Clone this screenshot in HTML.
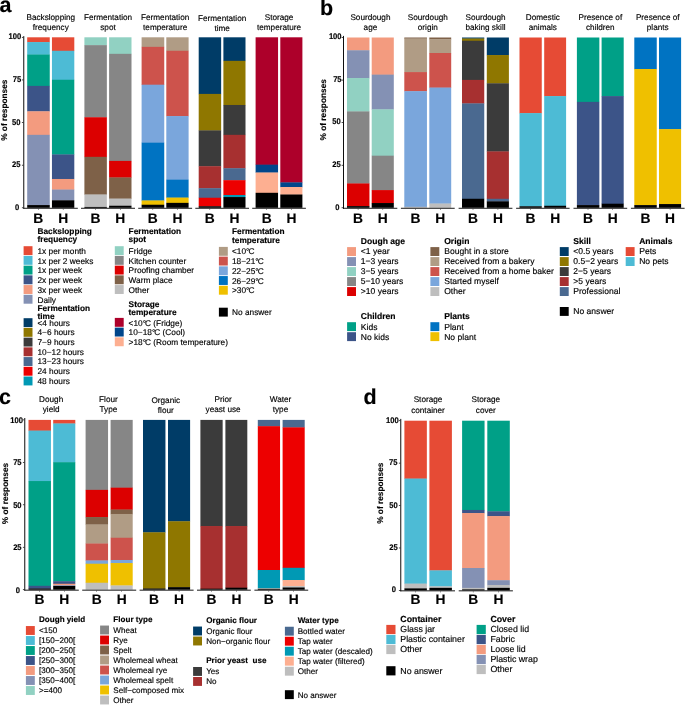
<!DOCTYPE html>
<html><head><meta charset="utf-8"><title>Figure</title>
<style>
html,body{margin:0;padding:0;background:#fff;}
svg{display:block;will-change:transform;}
text{font-family:"Liberation Sans",sans-serif;fill:#000;stroke:#000;stroke-width:0.15px;text-rendering:geometricPrecision;}
</style></head>
<body>
<svg width="685" height="705" viewBox="0 0 685 705">
<rect x="0" y="0" width="685" height="705" fill="#ffffff"/>
<rect x="27.20" y="37.30" width="22.55" height="5.07" fill="#E64B35"/>
<rect x="27.20" y="42.07" width="22.55" height="12.75" fill="#4DBBD5"/>
<rect x="27.20" y="54.52" width="22.55" height="31.67" fill="#00A087"/>
<rect x="27.20" y="85.89" width="22.55" height="25.70" fill="#3C5488"/>
<rect x="27.20" y="111.30" width="22.55" height="23.83" fill="#F39B7F"/>
<rect x="27.20" y="134.83" width="22.55" height="70.55" fill="#8491B4"/>
<rect x="27.20" y="205.07" width="22.55" height="2.73" fill="#000000"/>
<rect x="51.95" y="37.30" width="22.35" height="13.77" fill="#E64B35"/>
<rect x="51.95" y="50.77" width="22.35" height="29.29" fill="#4DBBD5"/>
<rect x="51.95" y="79.75" width="22.35" height="74.98" fill="#00A087"/>
<rect x="51.95" y="154.43" width="22.35" height="24.85" fill="#3C5488"/>
<rect x="51.95" y="178.99" width="22.35" height="10.87" fill="#F39B7F"/>
<rect x="51.95" y="189.56" width="22.35" height="11.04" fill="#8491B4"/>
<rect x="51.95" y="200.30" width="22.35" height="7.50" fill="#000000"/>
<rect x="84.40" y="37.30" width="22.45" height="8.14" fill="#91D1C2"/>
<rect x="84.40" y="45.14" width="22.45" height="72.42" fill="#868686"/>
<rect x="84.40" y="117.26" width="22.45" height="39.86" fill="#DC0000"/>
<rect x="84.40" y="156.82" width="22.45" height="37.98" fill="#7E6148"/>
<rect x="84.40" y="194.50" width="22.45" height="12.75" fill="#BEBEBE"/>
<rect x="84.40" y="206.95" width="22.45" height="0.85" fill="#000000"/>
<rect x="109.10" y="37.30" width="22.40" height="16.84" fill="#91D1C2"/>
<rect x="109.10" y="53.84" width="22.40" height="107.37" fill="#868686"/>
<rect x="109.10" y="160.91" width="22.40" height="16.84" fill="#DC0000"/>
<rect x="109.10" y="177.45" width="22.40" height="21.44" fill="#7E6148"/>
<rect x="109.10" y="198.59" width="22.40" height="7.46" fill="#BEBEBE"/>
<rect x="109.10" y="205.75" width="22.40" height="2.05" fill="#000000"/>
<rect x="141.60" y="37.30" width="22.65" height="9.85" fill="#B09C85"/>
<rect x="141.60" y="46.85" width="22.65" height="38.15" fill="#CD534C"/>
<rect x="141.60" y="84.70" width="22.65" height="58.27" fill="#7AA6DC"/>
<rect x="141.60" y="142.67" width="22.65" height="58.10" fill="#0073C2"/>
<rect x="141.60" y="200.47" width="22.65" height="4.56" fill="#EFC000"/>
<rect x="141.60" y="204.73" width="22.65" height="3.07" fill="#000000"/>
<rect x="166.30" y="37.30" width="22.30" height="13.77" fill="#B09C85"/>
<rect x="166.30" y="50.77" width="22.30" height="65.60" fill="#CD534C"/>
<rect x="166.30" y="116.07" width="22.30" height="63.90" fill="#7AA6DC"/>
<rect x="166.30" y="179.67" width="22.30" height="18.20" fill="#0073C2"/>
<rect x="166.30" y="197.57" width="22.30" height="5.59" fill="#EFC000"/>
<rect x="166.30" y="202.86" width="22.30" height="4.94" fill="#000000"/>
<rect x="198.70" y="37.30" width="22.45" height="56.91" fill="#003C67"/>
<rect x="198.70" y="93.91" width="22.45" height="36.79" fill="#8F7700"/>
<rect x="198.70" y="130.39" width="22.45" height="36.10" fill="#3B3B3B"/>
<rect x="198.70" y="166.20" width="22.45" height="22.29" fill="#A73030"/>
<rect x="198.70" y="188.19" width="22.45" height="9.85" fill="#4A6990"/>
<rect x="198.70" y="197.74" width="22.45" height="8.82" fill="#ED0000"/>
<rect x="198.70" y="206.27" width="22.45" height="1.53" fill="#000000"/>
<rect x="223.40" y="37.30" width="22.10" height="23.83" fill="#003C67"/>
<rect x="223.40" y="60.83" width="22.10" height="44.46" fill="#8F7700"/>
<rect x="223.40" y="104.99" width="22.10" height="30.14" fill="#3B3B3B"/>
<rect x="223.40" y="134.83" width="22.10" height="33.72" fill="#A73030"/>
<rect x="223.40" y="168.24" width="22.10" height="12.23" fill="#4A6990"/>
<rect x="223.40" y="180.18" width="22.10" height="15.13" fill="#ED0000"/>
<rect x="223.40" y="195.01" width="22.10" height="2.35" fill="#0099B4"/>
<rect x="223.40" y="197.06" width="22.10" height="10.74" fill="#000000"/>
<rect x="255.60" y="37.30" width="22.45" height="127.66" fill="#AD002A"/>
<rect x="255.60" y="164.66" width="22.45" height="8.14" fill="#00468B"/>
<rect x="255.60" y="172.51" width="22.45" height="20.59" fill="#FDAF91"/>
<rect x="255.60" y="192.80" width="22.45" height="15.00" fill="#000000"/>
<rect x="280.30" y="37.30" width="22.10" height="145.40" fill="#AD002A"/>
<rect x="280.30" y="182.40" width="22.10" height="4.90" fill="#00468B"/>
<rect x="280.30" y="187.00" width="22.10" height="7.80" fill="#FDAF91"/>
<rect x="280.30" y="194.50" width="22.10" height="13.30" fill="#000000"/>
<rect x="23.30" y="36.10" width="0.95" height="172.60" fill="#000000"/>
<rect x="21.90" y="36.95" width="1.40" height="0.70" fill="#000000"/>
<text transform="translate(21.20,39.30) scale(0.93,1)" font-size="8.2" font-weight="700" text-anchor="end">100</text>
<rect x="21.90" y="79.58" width="1.40" height="0.70" fill="#000000"/>
<text transform="translate(21.20,81.92) scale(0.93,1)" font-size="8.2" font-weight="700" text-anchor="end">75</text>
<rect x="21.90" y="122.20" width="1.40" height="0.70" fill="#000000"/>
<text transform="translate(20.40,124.55) scale(0.93,1)" font-size="8.2" font-weight="700" text-anchor="end">50</text>
<rect x="21.90" y="164.83" width="1.40" height="0.70" fill="#000000"/>
<text transform="translate(20.40,167.18) scale(0.93,1)" font-size="8.2" font-weight="700" text-anchor="end">25</text>
<rect x="21.90" y="207.45" width="1.40" height="0.70" fill="#000000"/>
<text transform="translate(19.15,209.80) scale(0.93,1)" font-size="8.2" font-weight="700" text-anchor="end">0</text>
<rect x="23.30" y="207.80" width="54.50" height="0.90" fill="#000000"/>
<rect x="38.05" y="208.70" width="0.60" height="1.10" fill="#333"/>
<text x="38.35" y="222.60" font-size="13.8" font-weight="700" text-anchor="middle" >B</text>
<rect x="62.88" y="208.70" width="0.60" height="1.10" fill="#333"/>
<text x="63.18" y="222.60" font-size="13.8" font-weight="700" text-anchor="middle" >H</text>
<text x="50.80" y="20.00" font-size="8.2" text-anchor="middle" >Backslopping</text>
<text x="50.80" y="30.30" font-size="8.2" text-anchor="middle" >frequency</text>
<rect x="81.00" y="207.80" width="54.00" height="0.90" fill="#000000"/>
<rect x="95.20" y="208.70" width="0.60" height="1.10" fill="#333"/>
<text x="95.50" y="222.60" font-size="13.8" font-weight="700" text-anchor="middle" >B</text>
<rect x="120.05" y="208.70" width="0.60" height="1.10" fill="#333"/>
<text x="120.35" y="222.60" font-size="13.8" font-weight="700" text-anchor="middle" >H</text>
<text x="108.00" y="20.00" font-size="8.2" text-anchor="middle" >Fermentation</text>
<text x="108.00" y="30.30" font-size="8.2" text-anchor="middle" >spot</text>
<rect x="138.20" y="207.80" width="53.90" height="0.90" fill="#000000"/>
<rect x="152.50" y="208.70" width="0.60" height="1.10" fill="#333"/>
<text x="152.80" y="222.60" font-size="13.8" font-weight="700" text-anchor="middle" >B</text>
<rect x="177.20" y="208.70" width="0.60" height="1.10" fill="#333"/>
<text x="177.50" y="222.60" font-size="13.8" font-weight="700" text-anchor="middle" >H</text>
<text x="165.15" y="20.00" font-size="8.2" text-anchor="middle" >Fermentation</text>
<text x="165.15" y="30.30" font-size="8.2" text-anchor="middle" >temperature</text>
<rect x="195.30" y="207.80" width="53.70" height="0.90" fill="#000000"/>
<rect x="209.50" y="208.70" width="0.60" height="1.10" fill="#333"/>
<text x="209.80" y="222.60" font-size="13.8" font-weight="700" text-anchor="middle" >B</text>
<rect x="234.20" y="208.70" width="0.60" height="1.10" fill="#333"/>
<text x="234.50" y="222.60" font-size="13.8" font-weight="700" text-anchor="middle" >H</text>
<text x="222.15" y="20.50" font-size="8.2" text-anchor="middle" >Fermentation</text>
<text x="222.15" y="30.80" font-size="8.2" text-anchor="middle" >time</text>
<rect x="252.20" y="207.80" width="53.70" height="0.90" fill="#000000"/>
<rect x="266.40" y="208.70" width="0.60" height="1.10" fill="#333"/>
<text x="266.70" y="222.60" font-size="13.8" font-weight="700" text-anchor="middle" >B</text>
<rect x="291.10" y="208.70" width="0.60" height="1.10" fill="#333"/>
<text x="291.40" y="222.60" font-size="13.8" font-weight="700" text-anchor="middle" >H</text>
<text x="279.05" y="20.00" font-size="8.2" text-anchor="middle" >Storage</text>
<text x="279.05" y="30.30" font-size="8.2" text-anchor="middle" >temperature</text>
<text transform="translate(6.60,110.20) rotate(-90)" font-size="8.3" font-weight="700" text-anchor="middle">% of responses</text>
<rect x="347.00" y="37.50" width="22.45" height="13.07" fill="#F39B7F"/>
<rect x="347.00" y="50.27" width="22.45" height="28.06" fill="#8491B4"/>
<rect x="347.00" y="78.03" width="22.45" height="33.68" fill="#91D1C2"/>
<rect x="347.00" y="111.41" width="22.45" height="72.34" fill="#868686"/>
<rect x="347.00" y="183.45" width="22.45" height="22.95" fill="#DC0000"/>
<rect x="347.00" y="206.10" width="22.45" height="1.70" fill="#000000"/>
<rect x="371.70" y="37.50" width="22.10" height="37.43" fill="#F39B7F"/>
<rect x="371.70" y="74.63" width="22.10" height="35.04" fill="#8491B4"/>
<rect x="371.70" y="109.37" width="22.10" height="46.62" fill="#91D1C2"/>
<rect x="371.70" y="155.69" width="22.10" height="34.70" fill="#868686"/>
<rect x="371.70" y="190.09" width="22.10" height="13.24" fill="#DC0000"/>
<rect x="371.70" y="203.03" width="22.10" height="4.77" fill="#000000"/>
<rect x="404.30" y="37.50" width="22.65" height="1.32" fill="#7E6148"/>
<rect x="404.30" y="38.52" width="22.65" height="33.85" fill="#B09C85"/>
<rect x="404.30" y="72.07" width="22.65" height="19.37" fill="#CD534C"/>
<rect x="404.30" y="91.14" width="22.65" height="115.93" fill="#7AA6DC"/>
<rect x="404.30" y="206.78" width="22.65" height="1.02" fill="#BEBEBE"/>
<rect x="429.30" y="37.50" width="21.90" height="2.00" fill="#7E6148"/>
<rect x="429.30" y="39.20" width="21.90" height="14.09" fill="#B09C85"/>
<rect x="429.30" y="53.00" width="21.90" height="34.87" fill="#CD534C"/>
<rect x="429.30" y="87.57" width="21.90" height="116.27" fill="#7AA6DC"/>
<rect x="429.30" y="203.54" width="21.90" height="4.26" fill="#BEBEBE"/>
<rect x="462.00" y="37.50" width="22.25" height="1.32" fill="#003C67"/>
<rect x="462.00" y="38.52" width="22.25" height="2.51" fill="#8F7700"/>
<rect x="462.00" y="40.74" width="22.25" height="39.47" fill="#3B3B3B"/>
<rect x="462.00" y="79.90" width="22.25" height="23.80" fill="#A73030"/>
<rect x="462.00" y="103.41" width="22.25" height="95.67" fill="#4A6990"/>
<rect x="462.00" y="198.77" width="22.25" height="9.03" fill="#000000"/>
<rect x="486.80" y="37.50" width="22.10" height="17.84" fill="#003C67"/>
<rect x="486.80" y="55.04" width="22.10" height="28.57" fill="#8F7700"/>
<rect x="486.80" y="83.31" width="22.10" height="68.42" fill="#3B3B3B"/>
<rect x="486.80" y="151.43" width="22.10" height="47.64" fill="#A73030"/>
<rect x="486.80" y="198.77" width="22.10" height="2.85" fill="#4A6990"/>
<rect x="486.80" y="201.33" width="22.10" height="6.47" fill="#000000"/>
<rect x="519.50" y="37.50" width="22.25" height="75.91" fill="#E64B35"/>
<rect x="519.50" y="113.11" width="22.25" height="93.45" fill="#4DBBD5"/>
<rect x="519.50" y="206.27" width="22.25" height="1.53" fill="#000000"/>
<rect x="544.20" y="37.50" width="21.90" height="58.88" fill="#E64B35"/>
<rect x="544.20" y="96.08" width="21.90" height="109.97" fill="#4DBBD5"/>
<rect x="544.20" y="205.76" width="21.90" height="2.04" fill="#000000"/>
<rect x="576.90" y="37.50" width="22.45" height="64.67" fill="#00A087"/>
<rect x="576.90" y="101.87" width="22.45" height="103.50" fill="#3C5488"/>
<rect x="576.90" y="205.08" width="22.45" height="2.72" fill="#000000"/>
<rect x="601.60" y="37.50" width="22.10" height="58.88" fill="#00A087"/>
<rect x="601.60" y="96.08" width="22.10" height="107.93" fill="#3C5488"/>
<rect x="601.60" y="203.71" width="22.10" height="4.09" fill="#000000"/>
<rect x="634.30" y="37.50" width="22.45" height="31.81" fill="#0073C2"/>
<rect x="634.30" y="69.01" width="22.45" height="136.37" fill="#EFC000"/>
<rect x="634.30" y="205.08" width="22.45" height="2.72" fill="#000000"/>
<rect x="659.00" y="37.50" width="22.10" height="91.92" fill="#0073C2"/>
<rect x="659.00" y="129.12" width="22.10" height="75.23" fill="#EFC000"/>
<rect x="659.00" y="204.05" width="22.10" height="3.75" fill="#000000"/>
<rect x="343.00" y="35.90" width="0.95" height="172.80" fill="#000000"/>
<rect x="341.60" y="37.15" width="1.40" height="0.70" fill="#000000"/>
<text transform="translate(341.60,39.20) scale(0.93,1)" font-size="8.2" font-weight="700" text-anchor="end">100</text>
<rect x="341.60" y="79.73" width="1.40" height="0.70" fill="#000000"/>
<text transform="translate(341.60,81.78) scale(0.93,1)" font-size="8.2" font-weight="700" text-anchor="end">75</text>
<rect x="341.60" y="122.30" width="1.40" height="0.70" fill="#000000"/>
<text transform="translate(340.80,124.35) scale(0.93,1)" font-size="8.2" font-weight="700" text-anchor="end">50</text>
<rect x="341.60" y="164.88" width="1.40" height="0.70" fill="#000000"/>
<text transform="translate(340.80,166.93) scale(0.93,1)" font-size="8.2" font-weight="700" text-anchor="end">25</text>
<rect x="341.60" y="207.45" width="1.40" height="0.70" fill="#000000"/>
<text transform="translate(339.55,209.50) scale(0.93,1)" font-size="8.2" font-weight="700" text-anchor="end">0</text>
<rect x="343.00" y="207.80" width="54.30" height="0.90" fill="#000000"/>
<rect x="357.80" y="208.70" width="0.60" height="1.10" fill="#333"/>
<text x="358.10" y="222.70" font-size="13.8" font-weight="700" text-anchor="middle" >B</text>
<rect x="382.50" y="208.70" width="0.60" height="1.10" fill="#333"/>
<text x="382.80" y="222.70" font-size="13.8" font-weight="700" text-anchor="middle" >H</text>
<text x="370.45" y="19.80" font-size="8.2" text-anchor="middle" >Sourdough</text>
<text x="370.45" y="30.40" font-size="8.2" text-anchor="middle" >age</text>
<rect x="400.90" y="207.80" width="53.80" height="0.90" fill="#000000"/>
<rect x="415.20" y="208.70" width="0.60" height="1.10" fill="#333"/>
<text x="415.50" y="222.70" font-size="13.8" font-weight="700" text-anchor="middle" >B</text>
<rect x="440.00" y="208.70" width="0.60" height="1.10" fill="#333"/>
<text x="440.30" y="222.70" font-size="13.8" font-weight="700" text-anchor="middle" >H</text>
<text x="427.80" y="19.80" font-size="8.2" text-anchor="middle" >Sourdough</text>
<text x="427.80" y="30.40" font-size="8.2" text-anchor="middle" >origin</text>
<rect x="458.60" y="207.80" width="53.80" height="0.90" fill="#000000"/>
<rect x="472.70" y="208.70" width="0.60" height="1.10" fill="#333"/>
<text x="473.00" y="222.70" font-size="13.8" font-weight="700" text-anchor="middle" >B</text>
<rect x="497.60" y="208.70" width="0.60" height="1.10" fill="#333"/>
<text x="497.90" y="222.70" font-size="13.8" font-weight="700" text-anchor="middle" >H</text>
<text x="485.50" y="19.80" font-size="8.2" text-anchor="middle" >Sourdough</text>
<text x="485.50" y="30.40" font-size="8.2" text-anchor="middle" >baking skill</text>
<rect x="516.10" y="207.80" width="53.50" height="0.90" fill="#000000"/>
<rect x="530.20" y="208.70" width="0.60" height="1.10" fill="#333"/>
<text x="530.50" y="222.70" font-size="13.8" font-weight="700" text-anchor="middle" >B</text>
<rect x="554.90" y="208.70" width="0.60" height="1.10" fill="#333"/>
<text x="555.20" y="222.70" font-size="13.8" font-weight="700" text-anchor="middle" >H</text>
<text x="542.85" y="19.80" font-size="8.2" text-anchor="middle" >Domestic</text>
<text x="542.85" y="30.40" font-size="8.2" text-anchor="middle" >animals</text>
<rect x="573.50" y="207.80" width="53.70" height="0.90" fill="#000000"/>
<rect x="587.70" y="208.70" width="0.60" height="1.10" fill="#333"/>
<text x="588.00" y="222.70" font-size="13.8" font-weight="700" text-anchor="middle" >B</text>
<rect x="612.40" y="208.70" width="0.60" height="1.10" fill="#333"/>
<text x="612.70" y="222.70" font-size="13.8" font-weight="700" text-anchor="middle" >H</text>
<text x="600.35" y="19.80" font-size="8.2" text-anchor="middle" >Presence of</text>
<text x="600.35" y="30.40" font-size="8.2" text-anchor="middle" >children</text>
<rect x="630.90" y="207.80" width="53.70" height="0.90" fill="#000000"/>
<rect x="645.10" y="208.70" width="0.60" height="1.10" fill="#333"/>
<text x="645.40" y="222.70" font-size="13.8" font-weight="700" text-anchor="middle" >B</text>
<rect x="669.80" y="208.70" width="0.60" height="1.10" fill="#333"/>
<text x="670.10" y="222.70" font-size="13.8" font-weight="700" text-anchor="middle" >H</text>
<text x="657.75" y="19.80" font-size="8.2" text-anchor="middle" >Presence of</text>
<text x="657.75" y="30.40" font-size="8.2" text-anchor="middle" >plants</text>
<text transform="translate(326.30,109.80) rotate(-90)" font-size="8.3" font-weight="700" text-anchor="middle">% of responses</text>
<rect x="28.50" y="419.90" width="22.45" height="11.00" fill="#E64B35"/>
<rect x="28.50" y="430.60" width="22.45" height="50.73" fill="#4DBBD5"/>
<rect x="28.50" y="481.03" width="22.45" height="105.07" fill="#00A087"/>
<rect x="28.50" y="585.79" width="22.45" height="3.02" fill="#3C5488"/>
<rect x="28.50" y="588.51" width="22.45" height="1.19" fill="#000000"/>
<rect x="53.20" y="419.90" width="22.10" height="3.87" fill="#E64B35"/>
<rect x="53.20" y="423.47" width="22.10" height="39.01" fill="#4DBBD5"/>
<rect x="53.20" y="462.18" width="22.10" height="119.33" fill="#00A087"/>
<rect x="53.20" y="581.21" width="22.10" height="2.85" fill="#3C5488"/>
<rect x="53.20" y="583.76" width="22.10" height="1.83" fill="#F39B7F"/>
<rect x="53.20" y="585.29" width="22.10" height="0.98" fill="#8491B4"/>
<rect x="53.20" y="585.96" width="22.10" height="3.74" fill="#000000"/>
<rect x="85.60" y="419.90" width="22.45" height="70.26" fill="#868686"/>
<rect x="85.60" y="489.86" width="22.45" height="27.47" fill="#DC0000"/>
<rect x="85.60" y="517.03" width="22.45" height="7.77" fill="#7E6148"/>
<rect x="85.60" y="524.50" width="22.45" height="19.32" fill="#B09C85"/>
<rect x="85.60" y="543.51" width="22.45" height="17.28" fill="#CD534C"/>
<rect x="85.60" y="560.49" width="22.45" height="3.53" fill="#7AA6DC"/>
<rect x="85.60" y="563.72" width="22.45" height="19.32" fill="#EFC000"/>
<rect x="85.60" y="582.74" width="22.45" height="6.96" fill="#BEBEBE"/>
<rect x="110.60" y="419.90" width="22.10" height="68.05" fill="#868686"/>
<rect x="110.60" y="487.65" width="22.10" height="22.20" fill="#DC0000"/>
<rect x="110.60" y="509.55" width="22.10" height="4.71" fill="#7E6148"/>
<rect x="110.60" y="513.97" width="22.10" height="24.07" fill="#B09C85"/>
<rect x="110.60" y="537.74" width="22.10" height="22.54" fill="#CD534C"/>
<rect x="110.60" y="559.99" width="22.10" height="3.36" fill="#7AA6DC"/>
<rect x="110.60" y="563.04" width="22.10" height="22.71" fill="#EFC000"/>
<rect x="110.60" y="585.46" width="22.10" height="4.25" fill="#BEBEBE"/>
<rect x="143.00" y="419.90" width="22.45" height="112.71" fill="#003C67"/>
<rect x="143.00" y="532.31" width="22.45" height="56.50" fill="#8F7700"/>
<rect x="143.00" y="588.51" width="22.45" height="1.19" fill="#000000"/>
<rect x="168.00" y="419.90" width="22.10" height="101.67" fill="#003C67"/>
<rect x="168.00" y="521.27" width="22.10" height="66.18" fill="#8F7700"/>
<rect x="168.00" y="587.15" width="22.10" height="2.55" fill="#000000"/>
<rect x="200.40" y="419.90" width="22.25" height="106.42" fill="#3B3B3B"/>
<rect x="200.40" y="526.02" width="22.25" height="62.96" fill="#A73030"/>
<rect x="200.40" y="588.68" width="22.25" height="1.02" fill="#000000"/>
<rect x="225.40" y="419.90" width="21.90" height="106.42" fill="#3B3B3B"/>
<rect x="225.40" y="526.02" width="21.90" height="61.94" fill="#A73030"/>
<rect x="225.40" y="587.66" width="21.90" height="2.04" fill="#000000"/>
<rect x="257.80" y="419.90" width="22.25" height="6.58" fill="#4A6990"/>
<rect x="257.80" y="426.18" width="22.25" height="144.12" fill="#ED0000"/>
<rect x="257.80" y="570.00" width="22.25" height="18.81" fill="#0099B4"/>
<rect x="257.80" y="588.51" width="22.25" height="0.72" fill="#FDAF91"/>
<rect x="257.80" y="588.94" width="22.25" height="0.76" fill="#000000"/>
<rect x="282.60" y="419.90" width="22.10" height="7.77" fill="#4A6990"/>
<rect x="282.60" y="427.37" width="22.10" height="140.72" fill="#ED0000"/>
<rect x="282.60" y="567.80" width="22.10" height="12.53" fill="#0099B4"/>
<rect x="282.60" y="580.02" width="22.10" height="6.41" fill="#FDAF91"/>
<rect x="282.60" y="586.13" width="22.10" height="1.66" fill="#BEBEBE"/>
<rect x="282.60" y="587.49" width="22.10" height="2.21" fill="#000000"/>
<rect x="24.30" y="418.00" width="0.95" height="172.60" fill="#000000"/>
<rect x="22.90" y="419.55" width="1.40" height="0.70" fill="#000000"/>
<text transform="translate(23.00,422.80) scale(0.93,1)" font-size="8.2" font-weight="700" text-anchor="end">100</text>
<rect x="22.90" y="462.00" width="1.40" height="0.70" fill="#000000"/>
<text transform="translate(21.60,465.25) scale(0.93,1)" font-size="8.2" font-weight="700" text-anchor="end">75</text>
<rect x="22.90" y="504.45" width="1.40" height="0.70" fill="#000000"/>
<text transform="translate(21.60,507.70) scale(0.93,1)" font-size="8.2" font-weight="700" text-anchor="end">50</text>
<rect x="22.90" y="546.90" width="1.40" height="0.70" fill="#000000"/>
<text transform="translate(21.60,550.15) scale(0.93,1)" font-size="8.2" font-weight="700" text-anchor="end">25</text>
<rect x="22.90" y="589.35" width="1.40" height="0.70" fill="#000000"/>
<text transform="translate(19.90,592.60) scale(0.93,1)" font-size="8.2" font-weight="700" text-anchor="end">0</text>
<rect x="24.30" y="589.70" width="54.50" height="0.90" fill="#000000"/>
<rect x="39.30" y="590.60" width="0.60" height="1.10" fill="#333"/>
<text x="39.60" y="604.40" font-size="13.8" font-weight="700" text-anchor="middle" >B</text>
<rect x="64.00" y="590.60" width="0.60" height="1.10" fill="#333"/>
<text x="64.30" y="604.40" font-size="13.8" font-weight="700" text-anchor="middle" >H</text>
<text x="51.15" y="402.40" font-size="8.2" text-anchor="middle" >Dough</text>
<text x="51.15" y="412.20" font-size="8.2" text-anchor="middle" >yield</text>
<rect x="82.20" y="589.70" width="54.00" height="0.90" fill="#000000"/>
<rect x="96.40" y="590.60" width="0.60" height="1.10" fill="#333"/>
<text x="96.70" y="604.40" font-size="13.8" font-weight="700" text-anchor="middle" >B</text>
<rect x="121.40" y="590.60" width="0.60" height="1.10" fill="#333"/>
<text x="121.70" y="604.40" font-size="13.8" font-weight="700" text-anchor="middle" >H</text>
<text x="108.40" y="402.40" font-size="8.2" text-anchor="middle" >Flour</text>
<text x="108.40" y="412.20" font-size="8.2" text-anchor="middle" >Type</text>
<rect x="139.60" y="589.70" width="54.00" height="0.90" fill="#000000"/>
<rect x="153.80" y="590.60" width="0.60" height="1.10" fill="#333"/>
<text x="154.10" y="604.40" font-size="13.8" font-weight="700" text-anchor="middle" >B</text>
<rect x="178.80" y="590.60" width="0.60" height="1.10" fill="#333"/>
<text x="179.10" y="604.40" font-size="13.8" font-weight="700" text-anchor="middle" >H</text>
<text x="165.80" y="403.40" font-size="8.2" text-anchor="middle" >Organic</text>
<text x="165.80" y="413.20" font-size="8.2" text-anchor="middle" >flour</text>
<rect x="197.00" y="589.70" width="53.80" height="0.90" fill="#000000"/>
<rect x="211.10" y="590.60" width="0.60" height="1.10" fill="#333"/>
<text x="211.40" y="604.40" font-size="13.8" font-weight="700" text-anchor="middle" >B</text>
<rect x="236.10" y="590.60" width="0.60" height="1.10" fill="#333"/>
<text x="236.40" y="604.40" font-size="13.8" font-weight="700" text-anchor="middle" >H</text>
<text x="223.10" y="402.40" font-size="8.2" text-anchor="middle" >Prior</text>
<text x="223.10" y="412.20" font-size="8.2" text-anchor="middle" >yeast use</text>
<rect x="254.40" y="589.70" width="53.80" height="0.90" fill="#000000"/>
<rect x="268.50" y="590.60" width="0.60" height="1.10" fill="#333"/>
<text x="268.80" y="604.40" font-size="13.8" font-weight="700" text-anchor="middle" >B</text>
<rect x="293.40" y="590.60" width="0.60" height="1.10" fill="#333"/>
<text x="293.70" y="604.40" font-size="13.8" font-weight="700" text-anchor="middle" >H</text>
<text x="280.50" y="402.40" font-size="8.2" text-anchor="middle" >Water</text>
<text x="280.50" y="412.20" font-size="8.2" text-anchor="middle" >type</text>
<text transform="translate(8.10,493.50) rotate(-90)" font-size="8.3" font-weight="700" text-anchor="middle">% of responses</text>
<rect x="404.40" y="420.70" width="22.45" height="58.17" fill="#E64B35"/>
<rect x="404.40" y="478.57" width="22.45" height="105.34" fill="#4DBBD5"/>
<rect x="404.40" y="583.61" width="22.45" height="5.05" fill="#BEBEBE"/>
<rect x="404.40" y="588.36" width="22.45" height="2.04" fill="#000000"/>
<rect x="429.40" y="420.70" width="22.50" height="149.98" fill="#E64B35"/>
<rect x="429.40" y="570.38" width="22.50" height="16.25" fill="#4DBBD5"/>
<rect x="429.40" y="586.33" width="22.50" height="1.83" fill="#BEBEBE"/>
<rect x="429.40" y="587.85" width="22.50" height="2.55" fill="#000000"/>
<rect x="462.10" y="420.70" width="22.45" height="89.56" fill="#00A087"/>
<rect x="462.10" y="509.96" width="22.45" height="3.35" fill="#3C5488"/>
<rect x="462.10" y="513.02" width="22.45" height="55.28" fill="#F39B7F"/>
<rect x="462.10" y="568.00" width="22.45" height="20.15" fill="#8491B4"/>
<rect x="462.10" y="587.85" width="22.45" height="1.83" fill="#BEBEBE"/>
<rect x="462.10" y="589.38" width="22.45" height="1.02" fill="#000000"/>
<rect x="487.30" y="420.70" width="22.50" height="90.92" fill="#00A087"/>
<rect x="487.30" y="511.32" width="22.50" height="5.05" fill="#3C5488"/>
<rect x="487.30" y="516.07" width="22.50" height="64.45" fill="#F39B7F"/>
<rect x="487.30" y="580.22" width="22.50" height="5.05" fill="#8491B4"/>
<rect x="487.30" y="584.97" width="22.50" height="3.18" fill="#BEBEBE"/>
<rect x="487.30" y="587.85" width="22.50" height="2.55" fill="#000000"/>
<rect x="400.30" y="418.90" width="0.95" height="172.40" fill="#000000"/>
<rect x="398.90" y="420.35" width="1.40" height="0.70" fill="#000000"/>
<text transform="translate(398.80,422.70) scale(0.93,1)" font-size="8.2" font-weight="700" text-anchor="end">100</text>
<rect x="398.90" y="462.77" width="1.40" height="0.70" fill="#000000"/>
<text transform="translate(397.40,465.12) scale(0.93,1)" font-size="8.2" font-weight="700" text-anchor="end">75</text>
<rect x="398.90" y="505.20" width="1.40" height="0.70" fill="#000000"/>
<text transform="translate(397.70,507.55) scale(0.93,1)" font-size="8.2" font-weight="700" text-anchor="end">50</text>
<rect x="398.90" y="547.62" width="1.40" height="0.70" fill="#000000"/>
<text transform="translate(397.70,549.98) scale(0.93,1)" font-size="8.2" font-weight="700" text-anchor="end">25</text>
<rect x="398.90" y="590.05" width="1.40" height="0.70" fill="#000000"/>
<text transform="translate(395.90,592.40) scale(0.93,1)" font-size="8.2" font-weight="700" text-anchor="end">0</text>
<rect x="400.30" y="590.40" width="54.70" height="0.90" fill="#000000"/>
<rect x="415.20" y="591.30" width="0.60" height="1.10" fill="#333"/>
<text x="415.50" y="603.50" font-size="13.8" font-weight="700" text-anchor="middle" >B</text>
<rect x="440.20" y="591.30" width="0.60" height="1.10" fill="#333"/>
<text x="440.50" y="603.50" font-size="13.8" font-weight="700" text-anchor="middle" >H</text>
<text x="428.00" y="402.10" font-size="8.2" text-anchor="middle" >Storage</text>
<text x="428.00" y="412.70" font-size="8.2" text-anchor="middle" >container</text>
<rect x="458.70" y="590.40" width="54.20" height="0.90" fill="#000000"/>
<rect x="472.90" y="591.30" width="0.60" height="1.10" fill="#333"/>
<text x="473.20" y="603.50" font-size="13.8" font-weight="700" text-anchor="middle" >B</text>
<rect x="498.10" y="591.30" width="0.60" height="1.10" fill="#333"/>
<text x="498.40" y="603.50" font-size="13.8" font-weight="700" text-anchor="middle" >H</text>
<text x="485.80" y="402.10" font-size="8.2" text-anchor="middle" >Storage</text>
<text x="485.80" y="412.70" font-size="8.2" text-anchor="middle" >cover</text>
<text transform="translate(382.50,493.20) rotate(-90)" font-size="8.3" font-weight="700" text-anchor="middle">% of responses</text>
<text x="-0.60" y="11.80" font-size="21.5" font-weight="700" text-anchor="start" >a</text>
<text x="319.90" y="15.30" font-size="21.5" font-weight="700" text-anchor="start" >b</text>
<text x="-0.90" y="403.90" font-size="21.5" font-weight="700" text-anchor="start" >c</text>
<text x="363.50" y="403.80" font-size="21.5" font-weight="700" text-anchor="start" >d</text>
<text x="37.50" y="233.50" font-size="8.3" font-weight="700" text-anchor="start" >Backslopping</text>
<text x="37.50" y="242.00" font-size="8.3" font-weight="700" text-anchor="start" >frequency</text>
<rect x="23.60" y="246.20" width="8.90" height="8.90" fill="#E64B35"/>
<text x="37.50" y="253.90" font-size="8.3">1x per month</text>
<rect x="23.60" y="255.92" width="8.90" height="8.90" fill="#4DBBD5"/>
<text x="37.50" y="263.62" font-size="8.3">1x per 2 weeks</text>
<rect x="23.60" y="265.64" width="8.90" height="8.90" fill="#00A087"/>
<text x="37.50" y="273.34" font-size="8.3">1x per week</text>
<rect x="23.60" y="275.36" width="8.90" height="8.90" fill="#3C5488"/>
<text x="37.50" y="283.06" font-size="8.3">2x per week</text>
<rect x="23.60" y="285.08" width="8.90" height="8.90" fill="#F39B7F"/>
<text x="37.50" y="292.78" font-size="8.3">3x per week</text>
<rect x="23.60" y="294.80" width="8.90" height="8.90" fill="#8491B4"/>
<text x="37.50" y="302.50" font-size="8.3">Daily</text>
<text x="37.50" y="310.50" font-size="8.3" font-weight="700" text-anchor="start" >Fermentation</text>
<text x="37.50" y="318.80" font-size="8.3" font-weight="700" text-anchor="start" >time</text>
<rect x="23.60" y="318.20" width="8.90" height="8.90" fill="#003C67"/>
<text x="37.50" y="325.60" font-size="8.3">&lt;4 hours</text>
<rect x="23.60" y="327.92" width="8.90" height="8.90" fill="#8F7700"/>
<text x="37.50" y="335.32" font-size="8.3">4−6 hours</text>
<rect x="23.60" y="337.64" width="8.90" height="8.90" fill="#3B3B3B"/>
<text x="37.50" y="345.04" font-size="8.3">7−9 hours</text>
<rect x="23.60" y="347.36" width="8.90" height="8.90" fill="#A73030"/>
<text x="37.50" y="354.76" font-size="8.3">10−12 hours</text>
<rect x="23.60" y="357.08" width="8.90" height="8.90" fill="#4A6990"/>
<text x="37.50" y="364.48" font-size="8.3">13−23 hours</text>
<rect x="23.60" y="366.80" width="8.90" height="8.90" fill="#ED0000"/>
<text x="37.50" y="374.20" font-size="8.3">24 hours</text>
<rect x="23.60" y="376.52" width="8.90" height="8.90" fill="#0099B4"/>
<text x="37.50" y="383.92" font-size="8.3">48 hours</text>
<text x="128.60" y="233.50" font-size="8.3" font-weight="700" text-anchor="start" >Fermentation</text>
<text x="128.60" y="242.00" font-size="8.3" font-weight="700" text-anchor="start" >spot</text>
<rect x="114.80" y="246.20" width="8.90" height="8.90" fill="#91D1C2"/>
<text x="128.60" y="253.90" font-size="8.3">Fridge</text>
<rect x="114.80" y="255.92" width="8.90" height="8.90" fill="#868686"/>
<text x="128.60" y="263.62" font-size="8.3">Kitchen counter</text>
<rect x="114.80" y="265.64" width="8.90" height="8.90" fill="#DC0000"/>
<text x="128.60" y="273.34" font-size="8.3">Proofing chamber</text>
<rect x="114.80" y="275.36" width="8.90" height="8.90" fill="#7E6148"/>
<text x="128.60" y="283.06" font-size="8.3">Warm place</text>
<rect x="114.80" y="285.08" width="8.90" height="8.90" fill="#BEBEBE"/>
<text x="128.60" y="292.78" font-size="8.3">Other</text>
<text x="128.60" y="306.70" font-size="8.3" font-weight="700" text-anchor="start" >Storage</text>
<text x="128.60" y="315.20" font-size="8.3" font-weight="700" text-anchor="start" >temperature</text>
<rect x="114.80" y="317.90" width="8.90" height="8.90" fill="#AD002A"/>
<text x="128.60" y="325.60" font-size="8.3">&lt;10°<tspan dx="-1.0">C</tspan> (Fridge)</text>
<rect x="114.80" y="327.62" width="8.90" height="8.90" fill="#00468B"/>
<text x="128.60" y="335.32" font-size="8.3">10−18°<tspan dx="-1.0">C</tspan> (Cool)</text>
<rect x="114.80" y="337.34" width="8.90" height="8.90" fill="#FDAF91"/>
<text x="128.60" y="345.04" font-size="8.3">&gt;18°<tspan dx="-1.0">C</tspan> (Room temperature)</text>
<text x="232.00" y="233.80" font-size="8.3" font-weight="700" text-anchor="start" >Fermentation</text>
<text x="232.00" y="242.60" font-size="8.3" font-weight="700" text-anchor="start" >temperature</text>
<rect x="218.90" y="246.90" width="8.90" height="8.90" fill="#B09C85"/>
<text x="232.00" y="254.40" font-size="8.3">&lt;10°<tspan dx="-1.0">C</tspan></text>
<rect x="218.90" y="256.62" width="8.90" height="8.90" fill="#CD534C"/>
<text x="232.00" y="264.12" font-size="8.3">18−21°<tspan dx="-1.0">C</tspan></text>
<rect x="218.90" y="266.34" width="8.90" height="8.90" fill="#7AA6DC"/>
<text x="232.00" y="273.84" font-size="8.3">22−25°<tspan dx="-1.0">C</tspan></text>
<rect x="218.90" y="276.06" width="8.90" height="8.90" fill="#0073C2"/>
<text x="232.00" y="283.56" font-size="8.3">26−29°<tspan dx="-1.0">C</tspan></text>
<rect x="218.90" y="285.78" width="8.90" height="8.90" fill="#EFC000"/>
<text x="232.00" y="293.28" font-size="8.3">&gt;30°<tspan dx="-1.0">C</tspan></text>
<rect x="218.90" y="307.70" width="8.90" height="8.90" fill="#000000"/>
<text x="232.00" y="315.10" font-size="8.3">No answer</text>
<text x="360.80" y="243.90" font-size="8.55" font-weight="700" text-anchor="start" >Dough age</text>
<rect x="347.10" y="247.10" width="8.90" height="8.90" fill="#F39B7F"/>
<text x="360.80" y="254.40" font-size="8.55">&lt;1 year</text>
<rect x="347.10" y="257.10" width="8.90" height="8.90" fill="#8491B4"/>
<text x="360.80" y="264.40" font-size="8.55">1−3 years</text>
<rect x="347.10" y="267.10" width="8.90" height="8.90" fill="#91D1C2"/>
<text x="360.80" y="274.40" font-size="8.55">3−5 years</text>
<rect x="347.10" y="277.10" width="8.90" height="8.90" fill="#868686"/>
<text x="360.80" y="284.40" font-size="8.55">5−10 years</text>
<rect x="347.10" y="287.10" width="8.90" height="8.90" fill="#DC0000"/>
<text x="360.80" y="294.40" font-size="8.55">&gt;10 years</text>
<text x="360.80" y="319.40" font-size="8.55" font-weight="700" text-anchor="start" >Children</text>
<rect x="347.10" y="322.20" width="8.90" height="8.90" fill="#00A087"/>
<text x="360.80" y="329.50" font-size="8.55">Kids</text>
<rect x="347.10" y="332.20" width="8.90" height="8.90" fill="#3C5488"/>
<text x="360.80" y="339.50" font-size="8.55">No kids</text>
<text x="444.20" y="243.90" font-size="8.55" font-weight="700" text-anchor="start" >Origin</text>
<rect x="430.40" y="247.10" width="8.90" height="8.90" fill="#7E6148"/>
<text x="444.20" y="254.40" font-size="8.55">Bought in a store</text>
<rect x="430.40" y="257.10" width="8.90" height="8.90" fill="#B09C85"/>
<text x="444.20" y="264.40" font-size="8.55">Received from a bakery</text>
<rect x="430.40" y="267.10" width="8.90" height="8.90" fill="#CD534C"/>
<text x="444.20" y="274.40" font-size="8.55">Received from a home baker</text>
<rect x="430.40" y="277.10" width="8.90" height="8.90" fill="#7AA6DC"/>
<text x="444.20" y="284.40" font-size="8.55">Started myself</text>
<rect x="430.40" y="287.10" width="8.90" height="8.90" fill="#BEBEBE"/>
<text x="444.20" y="294.40" font-size="8.55">Other</text>
<text x="444.20" y="319.40" font-size="8.55" font-weight="700" text-anchor="start" >Plants</text>
<rect x="430.40" y="322.20" width="8.90" height="8.90" fill="#0073C2"/>
<text x="444.20" y="329.50" font-size="8.55">Plant</text>
<rect x="430.40" y="332.20" width="8.90" height="8.90" fill="#EFC000"/>
<text x="444.20" y="339.50" font-size="8.55">No plant</text>
<text x="573.30" y="243.90" font-size="8.55" font-weight="700" text-anchor="start" >Skill</text>
<rect x="559.80" y="247.10" width="8.90" height="8.90" fill="#003C67"/>
<text x="573.30" y="254.40" font-size="8.55">&lt;0.5 years</text>
<rect x="559.80" y="257.10" width="8.90" height="8.90" fill="#8F7700"/>
<text x="573.30" y="264.40" font-size="8.55">0.5−2 years</text>
<rect x="559.80" y="267.10" width="8.90" height="8.90" fill="#3B3B3B"/>
<text x="573.30" y="274.40" font-size="8.55">2−5 years</text>
<rect x="559.80" y="277.10" width="8.90" height="8.90" fill="#A73030"/>
<text x="573.30" y="284.40" font-size="8.55">&gt;5 years</text>
<rect x="559.80" y="287.10" width="8.90" height="8.90" fill="#4A6990"/>
<text x="573.30" y="294.40" font-size="8.55">Professional</text>
<rect x="559.80" y="307.00" width="8.90" height="8.90" fill="#000000"/>
<text x="573.30" y="314.30" font-size="8.55">No answer</text>
<text x="639.20" y="243.90" font-size="8.55" font-weight="700" text-anchor="start" >Animals</text>
<rect x="625.70" y="247.10" width="8.90" height="8.90" fill="#E64B35"/>
<text x="639.20" y="254.40" font-size="8.55">Pets</text>
<rect x="625.70" y="257.10" width="8.90" height="8.90" fill="#4DBBD5"/>
<text x="639.20" y="264.40" font-size="8.55">No pets</text>
<text x="39.00" y="622.30" font-size="8.1" font-weight="700" text-anchor="start" >Dough yield</text>
<rect x="25.90" y="626.05" width="8.90" height="8.90" fill="#E64B35"/>
<text x="39.00" y="633.35" font-size="8.1">&lt;150</text>
<rect x="25.90" y="636.05" width="8.90" height="8.90" fill="#4DBBD5"/>
<text x="39.00" y="643.35" font-size="8.1">[150−200[</text>
<rect x="25.90" y="646.05" width="8.90" height="8.90" fill="#00A087"/>
<text x="39.00" y="653.35" font-size="8.1">[200−250[</text>
<rect x="25.90" y="656.05" width="8.90" height="8.90" fill="#3C5488"/>
<text x="39.00" y="663.35" font-size="8.1">[250−300[</text>
<rect x="25.90" y="666.05" width="8.90" height="8.90" fill="#F39B7F"/>
<text x="39.00" y="673.35" font-size="8.1">[300−350[</text>
<rect x="25.90" y="676.05" width="8.90" height="8.90" fill="#8491B4"/>
<text x="39.00" y="683.35" font-size="8.1">[350−400[</text>
<rect x="25.90" y="686.05" width="8.90" height="8.90" fill="#91D1C2"/>
<text x="39.00" y="693.35" font-size="8.1">&gt;=400</text>
<text x="113.30" y="621.90" font-size="8.1" font-weight="700" text-anchor="start" >Flour type</text>
<rect x="100.10" y="625.55" width="8.90" height="8.90" fill="#868686"/>
<text x="113.30" y="632.85" font-size="8.1">Wheat</text>
<rect x="100.10" y="635.55" width="8.90" height="8.90" fill="#DC0000"/>
<text x="113.30" y="642.85" font-size="8.1">Rye</text>
<rect x="100.10" y="645.55" width="8.90" height="8.90" fill="#7E6148"/>
<text x="113.30" y="652.85" font-size="8.1">Spelt</text>
<rect x="100.10" y="655.55" width="8.90" height="8.90" fill="#B09C85"/>
<text x="113.30" y="662.85" font-size="8.1">Wholemeal wheat</text>
<rect x="100.10" y="665.55" width="8.90" height="8.90" fill="#CD534C"/>
<text x="113.30" y="672.85" font-size="8.1">Wholemeal rye</text>
<rect x="100.10" y="675.55" width="8.90" height="8.90" fill="#7AA6DC"/>
<text x="113.30" y="682.85" font-size="8.1">Wholemeal spelt</text>
<rect x="100.10" y="685.55" width="8.90" height="8.90" fill="#EFC000"/>
<text x="113.30" y="692.85" font-size="8.1">Self−composed mix</text>
<rect x="100.10" y="695.55" width="8.90" height="8.90" fill="#BEBEBE"/>
<text x="113.30" y="702.85" font-size="8.1">Other</text>
<text x="206.20" y="622.80" font-size="8.1" font-weight="700" text-anchor="start" >Organic flour</text>
<rect x="193.10" y="626.55" width="8.90" height="8.90" fill="#003C67"/>
<text x="206.20" y="633.85" font-size="8.1">Organic flour</text>
<rect x="193.10" y="636.55" width="8.90" height="8.90" fill="#8F7700"/>
<text x="206.20" y="643.85" font-size="8.1">Non−organic flour</text>
<text x="206.20" y="663.30" font-size="8.1" font-weight="700" text-anchor="start" >Prior yeast  use</text>
<rect x="193.10" y="667.00" width="8.90" height="8.90" fill="#3B3B3B"/>
<text x="206.20" y="674.30" font-size="8.1">Yes</text>
<rect x="193.10" y="677.00" width="8.90" height="8.90" fill="#A73030"/>
<text x="206.20" y="684.30" font-size="8.1">No</text>
<text x="297.70" y="623.30" font-size="8.1" font-weight="700" text-anchor="start" >Water type</text>
<rect x="284.90" y="626.75" width="8.90" height="8.90" fill="#4A6990"/>
<text x="297.70" y="634.05" font-size="8.1">Bottled water</text>
<rect x="284.90" y="636.75" width="8.90" height="8.90" fill="#ED0000"/>
<text x="297.70" y="644.05" font-size="8.1">Tap water</text>
<rect x="284.90" y="646.75" width="8.90" height="8.90" fill="#0099B4"/>
<text x="297.70" y="654.05" font-size="8.1">Tap water (descaled)</text>
<rect x="284.90" y="656.75" width="8.90" height="8.90" fill="#FDAF91"/>
<text x="297.70" y="664.05" font-size="8.1">Tap water (filtered)</text>
<rect x="284.90" y="666.75" width="8.90" height="8.90" fill="#BEBEBE"/>
<text x="297.70" y="674.05" font-size="8.1">Other</text>
<rect x="284.90" y="690.20" width="8.90" height="8.90" fill="#000000"/>
<text x="297.70" y="697.50" font-size="8.1">No answer</text>
<text x="400.30" y="621.90" font-size="8.8" font-weight="700" text-anchor="start" >Container</text>
<rect x="386.30" y="624.90" width="9.20" height="9.20" fill="#E64B35"/>
<text x="400.30" y="632.40" font-size="8.8">Glass jar</text>
<rect x="386.30" y="634.90" width="9.20" height="9.20" fill="#4DBBD5"/>
<text x="400.30" y="642.40" font-size="8.8">Plastic container</text>
<rect x="386.30" y="644.90" width="9.20" height="9.20" fill="#BEBEBE"/>
<text x="400.30" y="652.40" font-size="8.8">Other</text>
<rect x="386.30" y="666.20" width="9.20" height="9.20" fill="#000000"/>
<text x="400.30" y="673.70" font-size="8.8">No answer</text>
<text x="490.40" y="621.90" font-size="8.8" font-weight="700" text-anchor="start" >Cover</text>
<rect x="476.60" y="624.90" width="9.20" height="9.20" fill="#00A087"/>
<text x="490.40" y="632.40" font-size="8.8">Closed lid</text>
<rect x="476.60" y="634.90" width="9.20" height="9.20" fill="#3C5488"/>
<text x="490.40" y="642.40" font-size="8.8">Fabric</text>
<rect x="476.60" y="644.90" width="9.20" height="9.20" fill="#F39B7F"/>
<text x="490.40" y="652.40" font-size="8.8">Loose lid</text>
<rect x="476.60" y="654.90" width="9.20" height="9.20" fill="#8491B4"/>
<text x="490.40" y="662.40" font-size="8.8">Plastic wrap</text>
<rect x="476.60" y="664.90" width="9.20" height="9.20" fill="#BEBEBE"/>
<text x="490.40" y="672.40" font-size="8.8">Other</text>
</svg>
</body></html>
